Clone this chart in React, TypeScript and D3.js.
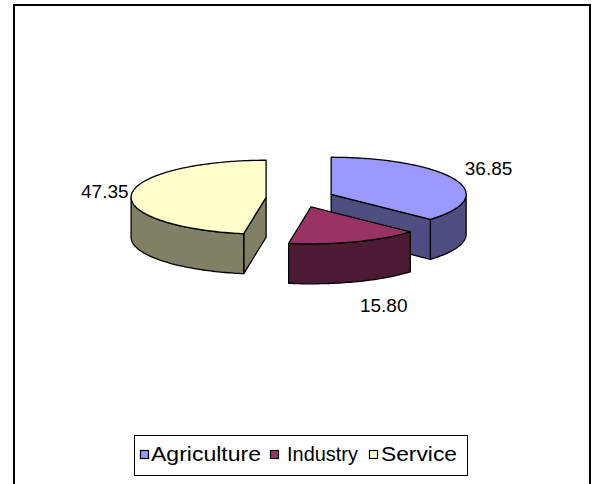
import React from "react";
import * as d3 from "d3";

const categories = ["Agriculture", "Industry", "Service"];
const values = [36.85, 15.8, 47.35];
const labels = ["36.85", "15.80", "47.35"];
const topColors = ["#9999FF", "#993366", "#FFFFCC"];
const sideColors = ["#4D4D80", "#4D1A33", "#808066"];

const W = 592;
const H = 484;
const cx = 300;
const cy = 198;
const rx = 135;
const ry = 37;
const depth = 40;
const explode = 34;
const font = "'Liberation Sans', Arial, sans-serif";

type Slice = { i: number; a0: number; a1: number; mid: number; ox: number; oy: number };

function pt(s: Slice, a: number, r = 1, dz = 0): [number, number] {
  return [s.ox + rx * r * Math.sin(a), s.oy - ry * r * Math.cos(a) + dz];
}

function arcPts(s: Slice, a0: number, a1: number, dz: number): [number, number][] {
  const n = Math.max(2, Math.ceil(Math.abs(a1 - a0) / 0.02));
  const out: [number, number][] = [];
  for (let k = 0; k <= n; k++) out.push(pt(s, a0 + ((a1 - a0) * k) / n, 1, dz));
  return out;
}

const line = d3.line<[number, number]>();

// label placement relative to the slice's rim point at its mid angle
const labelOffsets: { dx: number; dy: number; anchor: "start" | "end" | "middle"; bottom: boolean }[] = [
  { dx: 10, dy: -4, anchor: "start", bottom: false },
  { dx: 29, dy: 30, anchor: "middle", bottom: true },
  { dx: -3, dy: 4, anchor: "end", bottom: false },
];

const legendSquareX = [140, 270, 369];
const legendTextX = [151, 287, 381];
const legendTextLen = [110, 71, 76];

export default function App() {
  const pie = d3.pie<number>().sort(null).startAngle(0).endAngle(2 * Math.PI)(values);
  const slices: Slice[] = pie.map((p, i) => {
    const mid = (p.startAngle + p.endAngle) / 2;
    return {
      i,
      a0: p.startAngle,
      a1: p.endAngle,
      mid,
      ox: cx + explode * Math.sin(mid),
      oy: cy - explode * (ry / rx) * Math.cos(mid),
    };
  });
  const order = [...slices].sort((a, b) => a.oy - b.oy);

  const faces = order.map((s) => {
    const parts: JSX.Element[] = [];
    const c: [number, number] = [s.ox, s.oy];
    const radial = (a: number, sign: number, key: string) => {
      const normal = a + (sign * Math.PI) / 2;
      if (Math.cos(normal) < -1e-6) {
        const p = pt(s, a);
        const poly: [number, number][] = [c, p, [p[0], p[1] + depth], [c[0], c[1] + depth]];
        parts.push(
          <path key={key} d={line(poly) + "Z"} fill={sideColors[s.i]} stroke="#000" strokeWidth={1.3} strokeLinejoin="round" />
        );
      }
    };
    radial(s.a0, -1, "r0");
    radial(s.a1, 1, "r1");
    const w0 = Math.max(s.a0, Math.PI / 2);
    const w1 = Math.min(s.a1, (3 * Math.PI) / 2);
    if (w1 > w0) {
      const topArc = arcPts(s, w0, w1, 0);
      const botArc = arcPts(s, w0, w1, depth).reverse();
      parts.push(
        <path key="w" d={line([...topArc, ...botArc]) + "Z"} fill={sideColors[s.i]} stroke="#000" strokeWidth={1.3} strokeLinejoin="round" />
      );
    }
    const top = [c, ...arcPts(s, s.a0, s.a1, 0)];
    parts.push(
      <path key="t" d={line(top) + "Z"} fill={topColors[s.i]} stroke="#000" strokeWidth={1.3} strokeLinejoin="round" />
    );
    return <g key={s.i}>{parts}</g>;
  });

  const labelEls = slices.map((s) => {
    const o = labelOffsets[s.i];
    const [px, py] = pt(s, s.mid, 1.0, o.bottom ? depth : 0);
    return (
      <text key={s.i} x={px + o.dx} y={py + o.dy} textAnchor={o.anchor} fontFamily={font} fontSize={19} fill="#000">
        {labels[s.i]}
      </text>
    );
  });

  return (
    <svg width={W} height={H} style={{ position: "absolute", left: 0, top: 0, background: "#fff" }}>
      <rect x={14} y={5} width={576} height={520} fill="#fff" stroke="#000" strokeWidth={2} />
      {faces}
      {labelEls}
      <rect x={134.5} y={435.5} width={333} height={40} fill="#fff" stroke="#000" strokeWidth={1} />
      {categories.map((c, i) => (
        <g key={c}>
          <rect x={legendSquareX[i] + 0.5} y={450.5} width={8} height={8} fill={topColors[i]} stroke="#000" strokeWidth={1.2} />
          <text
            x={legendTextX[i]}
            y={461}
            fontFamily={font}
            fontSize={19.5}
            fill="#000"
            textLength={legendTextLen[i]}
            lengthAdjust="spacingAndGlyphs"
          >
            {c}
          </text>
        </g>
      ))}
    </svg>
  );
}
